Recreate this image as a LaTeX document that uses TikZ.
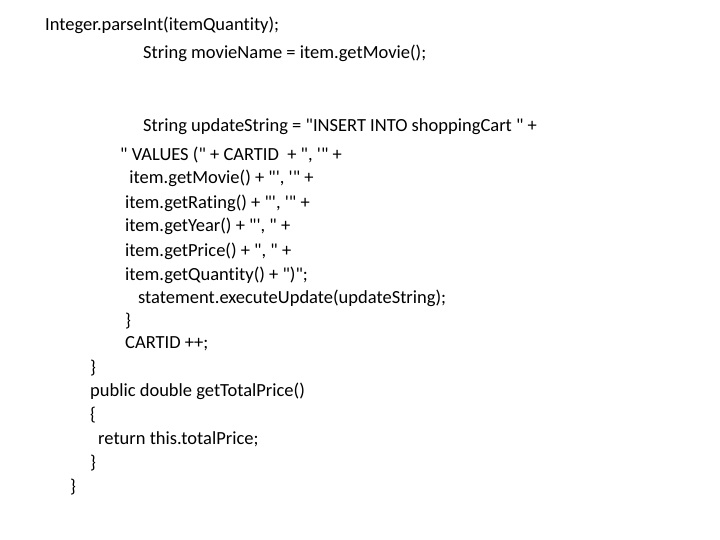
\documentclass[tikz,border=0pt]{standalone}
\usepackage{fontspec}
\setmainfont{Carlito}[Ligatures={TeXOff,CommonOff}]
\begin{document}
\begin{tikzpicture}[x=1pt,y=-1pt,code/.style={anchor=base west,inner sep=0pt,font=\fontsize{18.5}{22}\selectfont}]
\useasboundingbox[fill=white] (0,0) rectangle (720,540);
\node[code] (l1) at (45,31) {Integer.parseInt(itemQuantity);};
\node[code] (l2) at (143,59) {String movieName = item.getMovie();};
\node[code] (l3) at (143,132) {String updateString = "INSERT INTO shoppingCart " +};
\node[code] (l4) at (120,161) {" VALUES (" + CARTID~ + ", '" +};
\node[code] (l5) at (125,184) {~item.getMovie() + "', '" +};
\node[code] (l6) at (125,209) {item.getRating() + "', '" +};
\node[code] (l7) at (125,232) {item.getYear() + "', " +};
\node[code] (l8) at (125,256) {item.getPrice() + ", " +};
\node[code] (l9) at (125,280) {item.getQuantity() + ")";};
\node[code] (l10) at (138,303) {statement.executeUpdate(updateString);};
\node[code] (l11) at (125,326) {\}};
\node[code] (l12) at (125,348) {CARTID ++;};
\node[code] (l13) at (90,373) {\}};
\node[code] (l14) at (90,396) {public double getTotalPrice()};
\node[code] (l15) at (90,420) {\{};
\node[code] (l16) at (98,444) {return this.totalPrice;};
\node[code] (l17) at (90,468) {\}};
\node[code] (l18) at (70,492) {\}};
\end{tikzpicture}
\end{document}
